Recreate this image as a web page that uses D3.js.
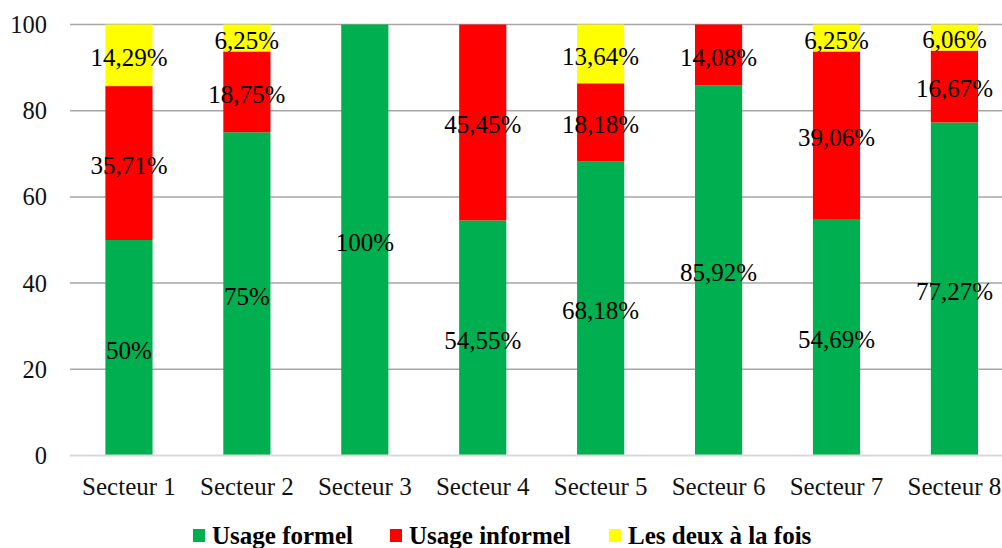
<!DOCTYPE html>
<html><head><meta charset="utf-8">
<script src="https://cdn.jsdelivr.net/npm/d3@7"></script>
<style>body{margin:0;background:#fff;overflow:hidden}svg{display:block}
text{font-family:"Liberation Serif","Times New Roman",Tinos,"DejaVu Serif",serif}</style>
</head><body>
<svg id="c" width="1002" height="548"></svg>
<script>
const categories = ["Secteur 1","Secteur 2","Secteur 3","Secteur 4","Secteur 5","Secteur 6","Secteur 7","Secteur 8"];
const formel   = [50, 75, 100, 54.55, 68.18, 85.92, 54.69, 77.27];
const informel = [35.71, 18.75, 0, 45.45, 18.18, 14.08, 39.06, 16.67];
const deux     = [14.29, 6.25, 0, 0, 13.64, 0, 6.25, 6.06];
const formelLabels   = ["50%","75%","100%","54,55%","68,18%","85,92%","54,69%","77,27%"];
const informelLabels = ["35,71%","18,75%","","45,45%","18,18%","14,08%","39,06%","16,67%"];
const deuxLabels     = ["14,29%","6,25%","","","13,64%","","6,25%","6,06%"];
const yTicks = [0,20,40,60,80,100];
const seriesNames = ["Usage formel","Usage informel","Les deux à la fois"];
const colors = ["#00B050","#FF0000","#FFFF00"];

const svg = d3.select("#c");
const x = d3.scaleBand().domain(categories).range([70, 1013.4]).paddingInner(0.6).paddingOuter(0.3);
const y = d3.scaleLinear().domain([0,100]).range([455.5, 24.5]);

// gridlines
svg.append("g").selectAll("line").data(yTicks.filter(t=>t>0)).join("line")
  .attr("x1",70).attr("x2",1002).attr("y1",d=>y(d)).attr("y2",d=>y(d))
  .attr("stroke","#a6a6a6").attr("stroke-width",1.5);

// y labels
svg.append("g").selectAll("text").data(yTicks).join("text")
  .attr("x",47).attr("y",d=>y(d)).attr("dy","0.35em").attr("text-anchor","end")
  .attr("font-size",24.5).attr("fill","#111").text(d=>d);

const stackData = categories.map((c,i)=>({c, a:formel[i], b:informel[i], d:deux[i]}));
const stack = d3.stack().keys(["a","b","d"])(stackData);

const g = svg.append("g");
stack.forEach((s,si)=>{
  g.selectAll(null).data(s).join("rect")
    .attr("x",d=>x(d.data.c)).attr("width",x.bandwidth())
    .attr("y",d=>y(d[1])).attr("height",d=>y(d[0])-y(d[1]))
    .attr("fill",colors[si]);
});

// baseline
svg.append("line").attr("x1",70).attr("x2",1002).attr("y1",y(0)).attr("y2",y(0))
  .attr("stroke","#d9d9d9").attr("stroke-width",2);

// labels
const labelArrs = [formelLabels, informelLabels, deuxLabels];
stack.forEach((s,si)=>{
  svg.append("g").selectAll("text").data(s.map((d,i)=>({d,i})).filter(o=>labelArrs[si][o.i]!=="")).join("text")
    .attr("x",o=>x(o.d.data.c)+x.bandwidth()/2)
    .attr("y",o=>y((o.d[0]+o.d[1])/2)+2)
    .attr("dy","0.35em").attr("text-anchor","middle")
    .attr("font-size",25).attr("fill","#000")
    .text(o=>labelArrs[si][o.i]);
});

// x labels
svg.append("g").selectAll("text").data(categories).join("text")
  .attr("x",d=>x(d)+x.bandwidth()/2).attr("y",495).attr("text-anchor","middle")
  .attr("font-size",25).attr("fill","#111").text(d=>d);

// legend
const legX = [193, 390, 609];
const lg = svg.append("g");
seriesNames.forEach((n,i)=>{
  lg.append("rect").attr("x",legX[i]).attr("y",529).attr("width",12).attr("height",13).attr("fill",colors[i]);
  lg.append("text").attr("x",legX[i]+19).attr("y",544).attr("font-weight","bold")
    .attr("font-size",25).attr("fill","#000").text(n);
});
</script>
</body></html>
